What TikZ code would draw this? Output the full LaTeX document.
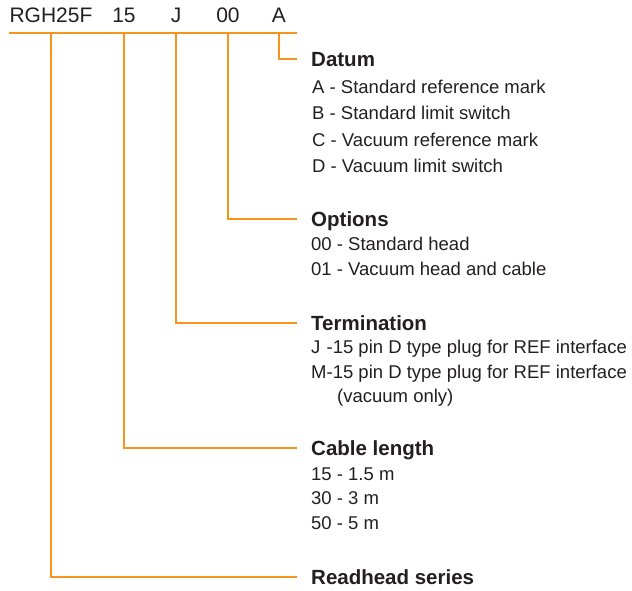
\documentclass[tikz,border=0pt]{standalone}
\usepackage{fontspec}
\setmainfont{Liberation Sans}
\definecolor{org}{HTML}{F7941D}
\definecolor{txt}{HTML}{231F20}
\begin{document}
\begin{tikzpicture}[x=1pt,y=-1pt,
  ln/.style={draw=org,line width=2.6pt},
  code/.style={inner sep=0pt,text=txt,font=\fontsize{21}{25}\selectfont},
  head/.style={inner sep=0pt,anchor=west,text=txt,text height=14.7pt,text depth=0pt,font=\bfseries\fontsize{20.5}{24}\selectfont},
  item/.style={inner sep=0pt,anchor=base west,text=txt,font=\fontsize{18.5}{22}\selectfont}]
\useasboundingbox (0,0) rectangle (632,590);
% codes
\node[code] (cR) at (51,15) {RGH25F};
\node[code] (c15) at (124,15) {15};
\node[code] (cJ) at (176,15) {J};
\node[code] (c00) at (228,15) {00};
\node[code] (cA) at (279,15) {A};
\coordinate (barL) at (9,33);
\coordinate (barR) at (297,33);
% headings
\node[head] (hD) at (311,59) {Datum};
\node[head] (hO) at (311,219) {Options};
\node[head] (hT) at (311,323) {Termination};
\node[head] (hC) at (311,448) {Cable length};
\node[head] (hR) at (311,577) {Readhead series};
% items
\node[item] (a1) at (312,93) {A - Standard reference mark};
\node[item] (a2) at (312,119) {B - Standard limit switch};
\node[item] (a3) at (312,146) {C - Vacuum reference mark};
\node[item] (a4) at (312,172) {D - Vacuum limit switch};
\node[item] (o1) at (311,250) {00 - Standard head};
\node[item] (o2) at (311,275) {01 - Vacuum head and cable};
\node[item] (t1) at (311,353) {\rlap{J}\phantom{M}-15 pin D type plug for REF interface};
\node[item] (t2) at (311,378) {M-15 pin D type plug for REF interface};
\node[item] (t3) at (337,402) {(vacuum only)};
\node[item] (l1) at (311,480) {15 - 1.5 m};
\node[item] (l2) at (311,504) {30 - 3 m};
\node[item] (l3) at (311,529) {50 - 5 m};
% connectors
\draw[ln] (barL) -- (barR);
\draw[ln] (cA |- barL) |- ([xshift=-14pt]hD.west);
\draw[ln] (c00 |- barL) |- ([xshift=-14pt]hO.west);
\draw[ln] (cJ |- barL) |- ([xshift=-14pt]hT.west);
\draw[ln] (c15 |- barL) |- ([xshift=-14pt]hC.west);
\draw[ln] (cR |- barL) |- ([xshift=-14pt]hR.west);
\end{tikzpicture}
\end{document}
